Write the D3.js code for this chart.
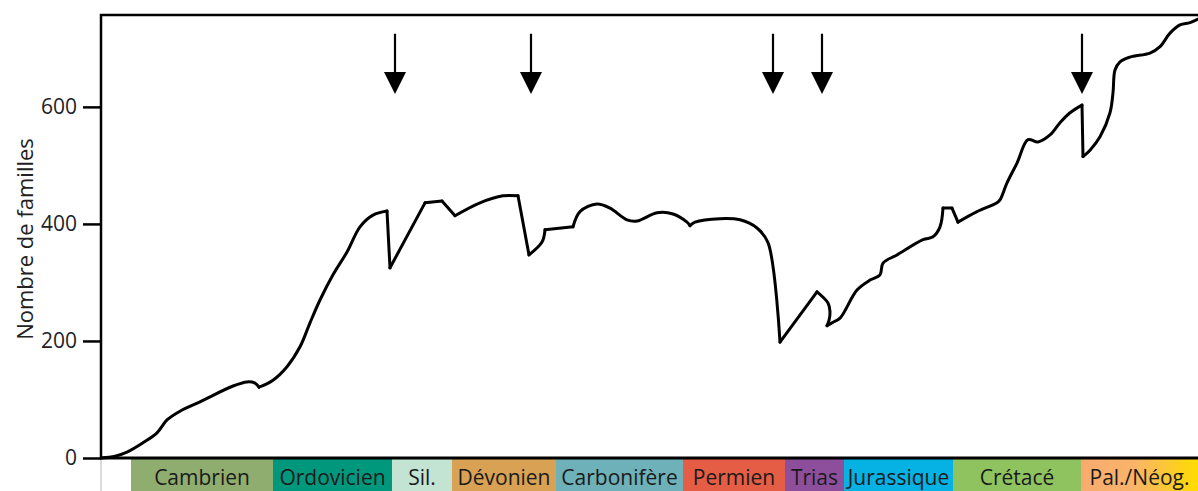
<!DOCTYPE html>
<html><head><meta charset="utf-8">
<script src="https://cdn.jsdelivr.net/npm/d3@7"></script>
<style>html,body{margin:0;padding:0;background:#fff;overflow:hidden}</style>
</head><body>
<svg id="c" width="1198" height="491"></svg>
<script>
// relative time position (0 = start of record, 1097 = present), number of families
const posX = [0,14,26,42,56,66,79,99,132,146,154,158,172,186,199,209,219,232,246,259,272,286,289,324,341,354,379,402,417,428,441,444,472,479,496,509,526,536,556,572,586,589,594,619,639,656,667,679,716,727,729,728,726,732,739,756,769,779,782,796,822,832,839,842,851,857,876,896,899,906,916,927,937,949,959,969,981,982,989,999,1009,1012,1014,1019,1029,1049,1059,1069,1079,1089,1097];
const families = [0,3,10,26,43,65,80,96,123,130,128,121,133,156,190,231,270,313,352,395,415,422,325,436,439,414,436,448,448,347,369,390,395,421,434,427,407,405,419,417,403,397,403,409,407,393,368,198,284,265,250,235,226,232,239,287,304,313,333,347,373,378,395,427,427,403,421,436,441,470,504,544,540,552,573,590,603,515,526,549,590,624,663,677,685,692,703,726,740,744,750];
// positions where the curve has a sharp corner
const corners = [158,286,289,324,341,354,417,428,444,472,589,679,716,726,842,851,857,981,982];
const extinctions = [294,430,672,721,981];
const periods = ["Cambrien","Ordovicien","Sil.","Dévonien","Carbonifère","Permien","Trias","Jurassique","Crétacé","Pal./Néog."];
const periodStart = [30,172,291,351,455,582,684,743,852,980];
const periodEnd   = [172,291,351,455,582,684,743,852,980,1097];
const periodColors = ["#8fad6f","#00987d","#c3e4d3","#d9a154","#6eb1b8","#e55d44","#8d4f9c","#06b1e3","#8ec35f","url(#cenozoic)"];
const yTicks = [0,200,400,600];
const yLabel = "Nombre de familles";

const FONT = "'Open Sans', Lato, sans-serif";
const svg = d3.select("#c");
const x = d3.scaleLinear().domain([0,1097]).range([101,1198]);
const y = d3.scaleLinear().domain([0,757]).range([458,15]);

const defs = svg.append("defs");
const g = defs.append("linearGradient").attr("id","cenozoic").attr("x1","0%").attr("x2","100%");
g.append("stop").attr("offset","0%").attr("stop-color","#f8ab6e");
g.append("stop").attr("offset","45%").attr("stop-color","#f9b46a");
g.append("stop").attr("offset","100%").attr("stop-color","#ffdc00");

// period band
const band = svg.append("g");
band.selectAll("rect").data(periods).join("rect")
  .attr("x",(d,i)=>x(periodStart[i])).attr("y",459)
  .attr("width",(d,i)=>x(periodEnd[i])-x(periodStart[i])).attr("height",40)
  .attr("fill",(d,i)=>periodColors[i]);
band.selectAll("text").data(periods).join("text")
  .attr("x",(d,i)=>(x(periodStart[i])+x(periodEnd[i]))/2).attr("y",485)
  .attr("text-anchor","middle").attr("font-family",FONT)
  .attr("font-size",21).attr("fill","#1a1a1a").text(d=>d);

// light grey line below axis origin
svg.append("line").attr("x1",x(0)).attr("x2",x(0)).attr("y1",459).attr("y2",491)
  .attr("stroke","#cfcfcf").attr("stroke-width",1.5);

// y axis
const yAxis = d3.axisLeft(y).tickValues(yTicks).tickSize(18).tickPadding(6);
const ya = svg.append("g").attr("transform",`translate(${x(0)},0)`).call(yAxis);
ya.select(".domain").remove();
ya.selectAll(".tick line").attr("stroke","#000").attr("stroke-width",2.5);
ya.selectAll(".tick text").attr("font-family",FONT).attr("font-size",21).attr("fill","#222");

// frame: left and top, bottom
svg.append("path").attr("d",`M${x(0)},${y(0)}V${y(757)}H${x(1097)}`)
  .attr("fill","none").attr("stroke","#000").attr("stroke-width",2.5);
svg.append("line").attr("x1",x(0)-1).attr("x2",x(1097)).attr("y1",y(0)).attr("y2",y(0))
  .attr("stroke","#000").attr("stroke-width",3);

svg.append("text").attr("transform",`translate(33,239) rotate(-90)`)
  .attr("text-anchor","middle").attr("font-family",FONT)
  .attr("font-size",22).attr("fill","#222").text(yLabel);

// curve, smooth between sharp corners
const pts = posX.map((v,i)=>[v,families[i]]);
const segments = [];
let cur = [];
pts.forEach((p,i)=>{
  cur.push(p);
  if (corners.includes(p[0]) && i>0 && i<pts.length-1) { segments.push(cur); cur=[p]; }
});
segments.push(cur);
const line = d3.line().x(d=>x(d[0])).y(d=>y(d[1])).curve(d3.curveCatmullRom.alpha(0.5));
svg.append("g").selectAll("path").data(segments).join("path").attr("d",line).attr("fill","none")
  .attr("stroke","#000").attr("stroke-width",3).attr("stroke-linejoin","round").attr("stroke-linecap","round");

// extinction arrows
const arrowTop = 725, arrowTip = 622;
const ar = svg.append("g").selectAll("g").data(extinctions).join("g");
ar.append("line").attr("x1",d=>x(d)).attr("x2",d=>x(d)).attr("y1",y(arrowTop)).attr("y2",y(arrowTip)-15)
  .attr("stroke","#000").attr("stroke-width",2.2);
ar.append("path").attr("d",d=>`M${x(d)-11},${y(arrowTip)-22}L${x(d)+11},${y(arrowTip)-22}L${x(d)},${y(arrowTip)}Z`)
  .attr("fill","#000");
</script>
</body></html>
